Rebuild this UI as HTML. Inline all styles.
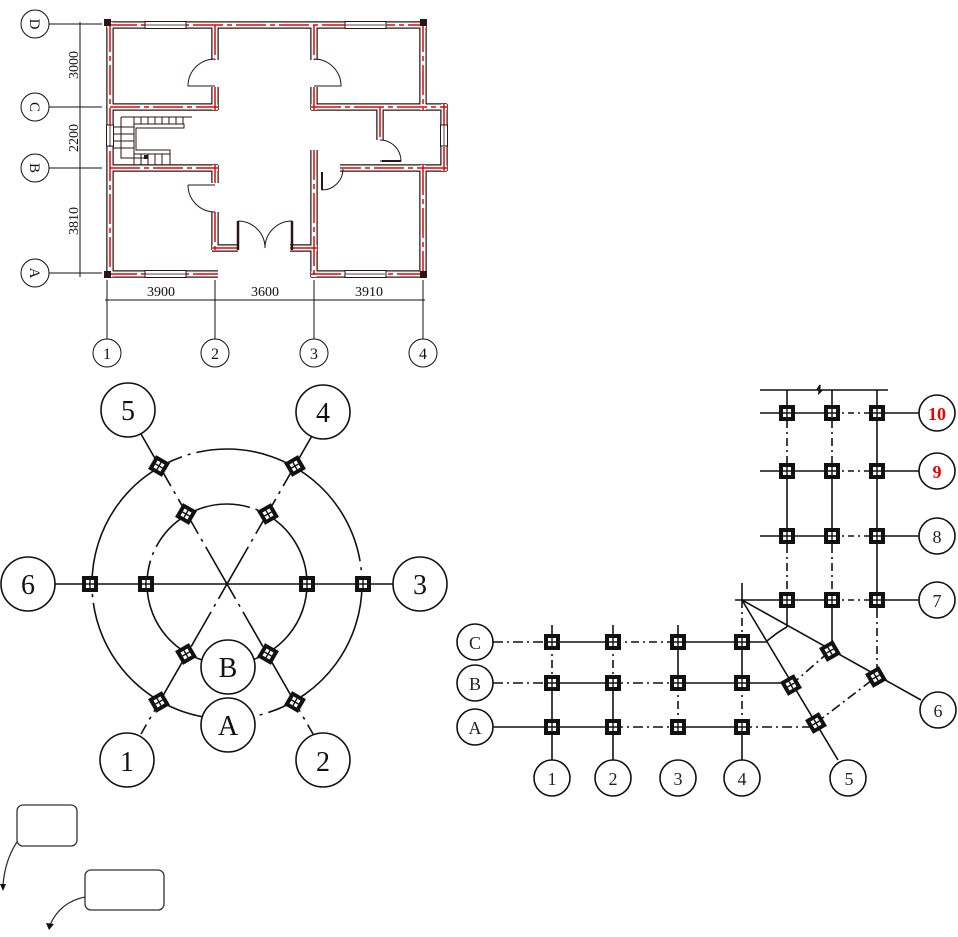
<!DOCTYPE html>
<html><head><meta charset="utf-8"><style>
html,body{margin:0;padding:0;background:#fff;}
svg{display:block;}
text{font-family:"Liberation Serif",serif;}
.cad{font-family:"Liberation Sans Narrow","Liberation Sans",sans-serif;}
</style></head><body>
<svg width="958" height="937" viewBox="0 0 958 937" xmlns="http://www.w3.org/2000/svg">
<defs>
<path id="walls" d="M107 25H426 M110 22V277 M423 22V110 M423 165V277 M107 274H218 M311 274H426
M215 25V60 M215 87V110 M110 107H218 M314 25V60 M314 87V110 M311 107H447 M444 104V171 M447 168H340
M110 168H218 M215 165V183 M215 212V250 M212 248H238 M290 248H317 M314 150V277 M380 107V140"/>
<g id="nd"><rect x="-8" y="-8" width="16" height="16" fill="#111"/><rect x="-4" y="-4" width="8" height="8" fill="#fff"/><path d="M0 -4V4M-4 0H4" stroke="#111" stroke-width="1.4"/></g>
</defs>

<!-- FLOOR PLAN -->
<g fill="none">
<use href="#walls" stroke="#2a1515" stroke-width="7.5"/>
<use href="#walls" stroke="#fff" stroke-width="5"/>
<use href="#walls" stroke="#e00" stroke-width="1.5" stroke-dasharray="30 4 5 4"/>
</g>
<g fill="#fff" stroke="#2a1515" stroke-width="1">
<rect x="145" y="21.5" width="41" height="7"/><rect x="345" y="21.5" width="41" height="7"/>
<rect x="145" y="270.5" width="41" height="7"/><rect x="345" y="270.5" width="41" height="7"/>
<rect x="106.5" y="125" width="7" height="21"/><rect x="440.5" y="125" width="7" height="21"/>
</g>
<path d="M145 25H186M345 25H385M145 274H186M345 274H385M110 125V146M444 125V146" stroke="#2a1515" stroke-width="0.8"/>
<g fill="#2a1515"><rect x="104" y="19" width="7" height="7"/><rect x="420" y="19" width="7" height="7"/><rect x="104" y="271" width="7" height="7"/><rect x="420" y="271" width="7" height="7"/></g>
<path d="M238 221V250M292 221V250" stroke="#2a1515" stroke-width="2.5"/>
<g fill="none" stroke="#2a1515" stroke-width="1">
<path d="M238 221A27 27 0 0 1 265 248M292 221A27 27 0 0 0 265 248"/>
<path d="M215 59A27 27 0 0 0 188 86H215M314 59A27 27 0 0 1 341 86H314"/>
<path d="M188 185A27 27 0 0 0 215 212M188 185H215"/>
<path d="M380 140A21 21 0 0 1 401 161H380"/>
<path d="M322 190A21 21 0 0 0 343 169"/>
</g>
<path d="M322 172V190M382 161H401" stroke="#2a1515" stroke-width="2"/>
<g stroke="#2a1515" stroke-width="1" fill="none">
<path d="M121 117H192 M121 117V158H148 M134 124H184V128H136V150H170V154H134Z"/>
<path d="M134 117V124M141 117V124M148 117V124M155 117V124M162 117V124M169 117V124M176 117V124M183 117V124"/>
<path d="M113 127H134M113 134H134M113 141H134M113 148H134"/>
<path d="M134 154V165M141 154V165M148 154V165M155 154V165M162 154V165M170 154V165"/>
</g>
<rect x="144" y="155" width="4" height="4" fill="#2a1515"/>
<g stroke="#111" stroke-width="1" fill="none">
<path d="M49 24H102M49 107H102M49 168H102M49 273H102M80 22V277"/>
<path d="M107 280V339M215 280V339M314 280V339M423 280V339M105 300H425"/>
<circle cx="35" cy="24" r="14"/><circle cx="35" cy="107" r="14"/><circle cx="35" cy="168" r="14"/><circle cx="35" cy="273" r="14"/>
<circle cx="107" cy="353" r="14"/><circle cx="215" cy="353" r="14"/><circle cx="314" cy="353" r="14"/><circle cx="423" cy="353" r="14"/>
</g>
<g class="cad" font-size="14" fill="#111" text-anchor="middle">
<text x="161" y="296">3900</text><text x="265" y="296">3600</text><text x="369" y="296">3910</text>
<text transform="translate(78 65) rotate(-90)">3000</text>
<text transform="translate(78 138) rotate(-90)">2200</text>
<text transform="translate(78 221) rotate(-90)">3810</text>
<text x="107" y="359" font-size="16">1</text><text x="215" y="359" font-size="16">2</text><text x="314" y="359" font-size="16">3</text><text x="423" y="359" font-size="16">4</text>
<text transform="translate(30 24) rotate(90)" font-size="15">D</text>
<text transform="translate(30 107) rotate(90)" font-size="15">C</text>
<text transform="translate(30 168) rotate(90)" font-size="15">B</text>
<text transform="translate(30 273) rotate(90)" font-size="15">A</text>
</g>

<!-- CIRCULAR PLAN -->
<g stroke="#111" stroke-width="1.6" fill="none">
<circle cx="227" cy="584" r="135" stroke-dasharray="170 6 3 6 220 6 3 6"/>
<circle cx="227" cy="584" r="80" stroke-dasharray="110 6 3 6 150 6 3 6"/>
<path d="M55 584H393"/>
<path d="M141 434L313 734" stroke-dasharray="60 6 3 6 40 6 3 6"/>
<path d="M313 434L141 734" stroke-dasharray="60 6 3 6 40 6 3 6"/>
<circle cx="28" cy="584" r="27" fill="#fff"/><circle cx="420" cy="584" r="27" fill="#fff"/>
<circle cx="128" cy="410" r="27" fill="#fff"/><circle cx="323" cy="412" r="27" fill="#fff"/>
<circle cx="127" cy="760" r="27" fill="#fff"/><circle cx="323" cy="760" r="27" fill="#fff"/>
<circle cx="228" cy="667" r="27" fill="#fff"/><circle cx="228" cy="725" r="27" fill="#fff"/>
</g>
<g>
<use href="#nd" transform="translate(90 584)"/><use href="#nd" transform="translate(146 584)"/>
<use href="#nd" transform="translate(307 584)"/><use href="#nd" transform="translate(363 584)"/>
<use href="#nd" transform="translate(159 466) rotate(30)"/><use href="#nd" transform="translate(186 514) rotate(30)"/>
<use href="#nd" transform="translate(295 466) rotate(-30)"/><use href="#nd" transform="translate(268 514) rotate(-30)"/>
<use href="#nd" transform="translate(186 654) rotate(-30)"/><use href="#nd" transform="translate(159 702) rotate(-30)"/>
<use href="#nd" transform="translate(268 654) rotate(30)"/><use href="#nd" transform="translate(295 702) rotate(30)"/>
</g>
<g font-size="28" fill="#111" text-anchor="middle">
<text x="28" y="594">6</text><text x="420" y="594">3</text><text x="128" y="420">5</text><text x="323" y="422">4</text>
<text x="127" y="771">1</text><text x="323" y="771">2</text><text x="228" y="677">B</text><text x="228" y="735">A</text>
</g>

<!-- RIGHT GRID -->
<g stroke="#111" stroke-width="1.6" fill="none">
<path d="M760 390H888M817 390l3 -5l-1 8l3 -3"/>
<path d="M552 642H613M678 642H767" />
<path d="M613 642H678" stroke-dasharray="8 4 2 4"/>
<path d="M493 642H552M493 683H552M613 683H678" stroke-dasharray="10 4 2 4"/>
<path d="M552 683H613M678 683H790"/>
<path d="M493 727H613M678 727H742"/>
<path d="M613 727H678M742 727H815" stroke-dasharray="10 4 2 4"/>
<path d="M552 625V642M552 683V760M613 625V642M613 683V760M678 625V683M742 583V600M742 642V683M742 727V760"/>
<path d="M552 642V683M613 642V683M678 683V727M742 600V642M742 683V727" stroke-dasharray="8 4 2 4"/>
<path d="M787 390V420M787 460V545M787 600V627M832 390V420M832 460V545M832 600V650M877 390V610"/>
<path d="M787 420V460M787 545V600M832 420V460M832 545V600M877 610V677" stroke-dasharray="8 4 2 4"/>
<path d="M760 413H832M877 413H919M760 471H832M877 471H919M760 536H832M877 536H919M735 600H832M877 600H919"/>
<path d="M832 413H877M832 471H877M832 536H877M832 600H877" stroke-dasharray="6 4 2 4"/>
<path d="M742 600L921 700M742 600L838 760"/>
<path d="M791 685L830 651M816 723L876 677" stroke-dasharray="10 4 2 4"/>
<path d="M767 641Q779 631 787 627"/>
<circle cx="475" cy="642" r="18" fill="#fff"/><circle cx="475" cy="683" r="18" fill="#fff"/><circle cx="475" cy="727" r="18" fill="#fff"/>
<circle cx="552" cy="778" r="18" fill="#fff"/><circle cx="613" cy="778" r="18" fill="#fff"/><circle cx="678" cy="778" r="18" fill="#fff"/><circle cx="742" cy="778" r="18" fill="#fff"/>
<circle cx="848" cy="778" r="18" fill="#fff"/><circle cx="938" cy="710" r="18" fill="#fff"/>
<circle cx="937" cy="413" r="18" fill="#fff"/><circle cx="937" cy="471" r="18" fill="#fff"/><circle cx="937" cy="536" r="18" fill="#fff"/><circle cx="937" cy="600" r="18" fill="#fff"/>
</g>
<g>
<use href="#nd" transform="translate(552 642)"/><use href="#nd" transform="translate(613 642)"/><use href="#nd" transform="translate(678 642)"/><use href="#nd" transform="translate(742 642)"/>
<use href="#nd" transform="translate(552 683)"/><use href="#nd" transform="translate(613 683)"/><use href="#nd" transform="translate(678 683)"/><use href="#nd" transform="translate(742 683)"/>
<use href="#nd" transform="translate(552 727)"/><use href="#nd" transform="translate(613 727)"/><use href="#nd" transform="translate(678 727)"/><use href="#nd" transform="translate(742 727)"/>
<use href="#nd" transform="translate(787 413)"/><use href="#nd" transform="translate(832 413)"/><use href="#nd" transform="translate(877 413)"/>
<use href="#nd" transform="translate(787 471)"/><use href="#nd" transform="translate(832 471)"/><use href="#nd" transform="translate(877 471)"/>
<use href="#nd" transform="translate(787 536)"/><use href="#nd" transform="translate(832 536)"/><use href="#nd" transform="translate(877 536)"/>
<use href="#nd" transform="translate(787 600)"/><use href="#nd" transform="translate(832 600)"/><use href="#nd" transform="translate(877 600)"/>
<use href="#nd" transform="translate(830 651) rotate(-30)"/><use href="#nd" transform="translate(876 677) rotate(-30)"/>
<use href="#nd" transform="translate(791 685) rotate(-30)"/><use href="#nd" transform="translate(816 723) rotate(-30)"/>
</g>
<g font-size="18" fill="#222" text-anchor="middle">
<text x="475" y="649">C</text><text x="475" y="690">B</text><text x="475" y="734">A</text>
<text x="552" y="785">1</text><text x="613" y="785">2</text><text x="678" y="785">3</text><text x="742" y="785">4</text>
<text x="849" y="785">5</text><text x="938" y="717">6</text>
<text x="937" y="543">8</text><text x="937" y="607">7</text>
<text x="937" y="420" fill="#e00" font-weight="bold">10</text><text x="937" y="478" fill="#e00" font-weight="bold">9</text>
</g>

<g fill="none" stroke="#333" stroke-width="1.3">
<rect x="17" y="805" width="60" height="41" rx="6"/>
<rect x="85" y="870" width="79" height="40" rx="6"/>
<path d="M17 842Q5 860 3 885"/>
<path d="M85 897Q60 902 50 925"/>
</g>
<path d="M0 884L3 891L6 884Z M46 923L49 930L54 924Z" fill="#111"/>
</svg>
</body></html>
